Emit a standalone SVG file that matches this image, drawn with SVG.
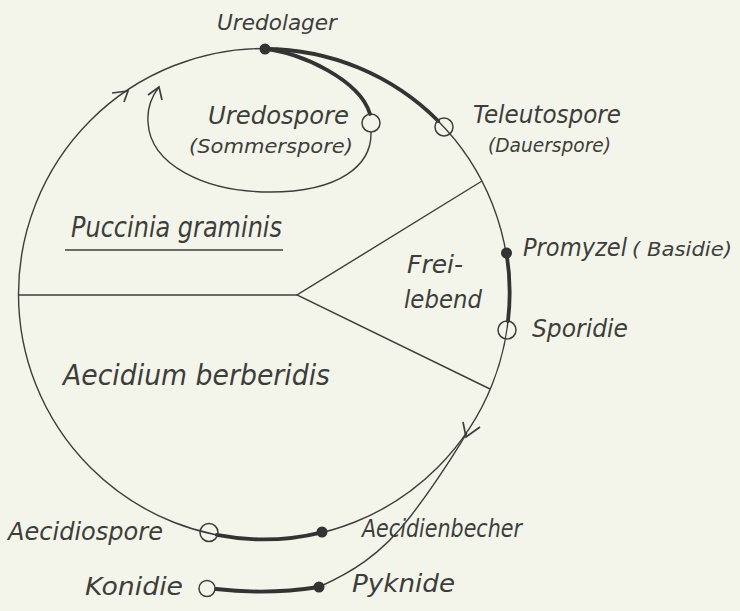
<svg xmlns="http://www.w3.org/2000/svg" width="740" height="611" viewBox="0 0 740 611">
<style>
.t{font-family:"DejaVu Sans Condensed","DejaVu Sans",sans-serif;font-style:italic;fill:#3d3e3a}
.thin{fill:none;stroke:#3d3e3a;stroke-width:1.4}
.thick{fill:none;stroke:#333431;stroke-width:3.8;stroke-linecap:round}
.open{fill:none;stroke:#3d3e3a;stroke-width:1.5}
.dot{fill:#333431}
.arr{fill:none;stroke:#3d3e3a;stroke-width:1.7}
</style>
<rect width="740" height="611" fill="#f3f5ea"/>
<g id="connectors">
<circle class="thin" cx="264" cy="294" r="245.5"/>
<line class="thin" x1="18" y1="295" x2="297" y2="295"/>
<polyline class="thin" points="482,181 297,295 490,389"/>
<path class="thick" d="M265,49 A245.5,245.5 0 0 1 438.2,121"/>
<path class="thick" d="M506.5,253 A245.5,245.5 0 0 1 508,321"/>
<path class="thick" d="M322,532.3 A245.5,245.5 0 0 1 216.7,534.9"/>
<path class="thick" d="M265,49 C300,52 360,80 370,114"/>
<path class="thin" d="M371,132 C372,165 340,192 270,192 C205,192 150,165 148,122 C147,108 152,96 159,87"/>
<path class="thin" d="M467,433 C455,452 440,478 410,517 S350,573 319,587"/>
<path class="thick" d="M216,589 Q268,595 319,587"/>
<path class="arr" d="M112,93 L128,91 L124,102"/>
<path class="arr" d="M148,95 L159,87 L162,100"/>
<path class="arr" d="M463,422 L466,437 L480,427"/>
<line class="thin" x1="65" y1="250" x2="283" y2="250" stroke-width="1.8"/>
</g>
<g id="uredolager"><circle class="dot" cx="265" cy="49" r="5.5"/><text class="t" x="217" y="30" font-size="22" textLength="120" lengthAdjust="spacingAndGlyphs">Uredolager</text></g>
<g id="uredospore"><circle class="open" cx="371" cy="123" r="9"/><text class="t" x="208" y="124" font-size="25" textLength="141" lengthAdjust="spacingAndGlyphs">Uredospore</text><text class="t" x="189" y="153" font-size="19" textLength="164" lengthAdjust="spacingAndGlyphs">(Sommerspore)</text></g>
<g id="teleutospore"><circle class="open" cx="444" cy="127" r="9"/><text class="t" x="473" y="123" font-size="24" textLength="148" lengthAdjust="spacingAndGlyphs">Teleutospore</text><text class="t" x="488" y="152" font-size="19" textLength="123" lengthAdjust="spacingAndGlyphs">(Dauerspore)</text></g>
<g id="puccinia"><text class="t" x="71" y="237" font-size="29" textLength="211" lengthAdjust="spacingAndGlyphs">Puccinia graminis</text></g>
<g id="freilebend"><text class="t" x="407" y="273" font-size="25" textLength="56" lengthAdjust="spacingAndGlyphs">Frei-</text><text class="t" x="404" y="308" font-size="25" textLength="78" lengthAdjust="spacingAndGlyphs">lebend</text></g>
<g id="promyzel"><circle class="dot" cx="506.5" cy="253" r="5.5"/><text class="t" x="523" y="256" font-size="25" textLength="104" lengthAdjust="spacingAndGlyphs">Promyzel</text><text class="t" x="632" y="256" font-size="19" textLength="100" lengthAdjust="spacingAndGlyphs">( Basidie)</text></g>
<g id="sporidie"><circle class="open" cx="507" cy="330" r="9"/><text class="t" x="532" y="337" font-size="25" textLength="96" lengthAdjust="spacingAndGlyphs">Sporidie</text></g>
<g id="aecidium"><text class="t" x="63" y="385" font-size="28" textLength="267" lengthAdjust="spacingAndGlyphs">Aecidium berberidis</text></g>
<g id="aecidienbecher"><circle class="dot" cx="322" cy="532" r="5.5"/><text class="t" x="362" y="537" font-size="25" textLength="160" lengthAdjust="spacingAndGlyphs">Aecidienbecher</text></g>
<g id="aecidiospore"><circle class="open" cx="209" cy="532.5" r="9"/><text class="t" x="8" y="540" font-size="25" textLength="155" lengthAdjust="spacingAndGlyphs">Aecidiospore</text></g>
<g id="pyknide"><circle class="dot" cx="319" cy="587" r="5.5"/><text class="t" x="352" y="592" font-size="25" textLength="103" lengthAdjust="spacingAndGlyphs">Pyknide</text></g>
<g id="konidie"><circle class="open" cx="207" cy="588.5" r="8"/><text class="t" x="85" y="595" font-size="25" textLength="98" lengthAdjust="spacingAndGlyphs">Konidie</text></g>
</svg>
